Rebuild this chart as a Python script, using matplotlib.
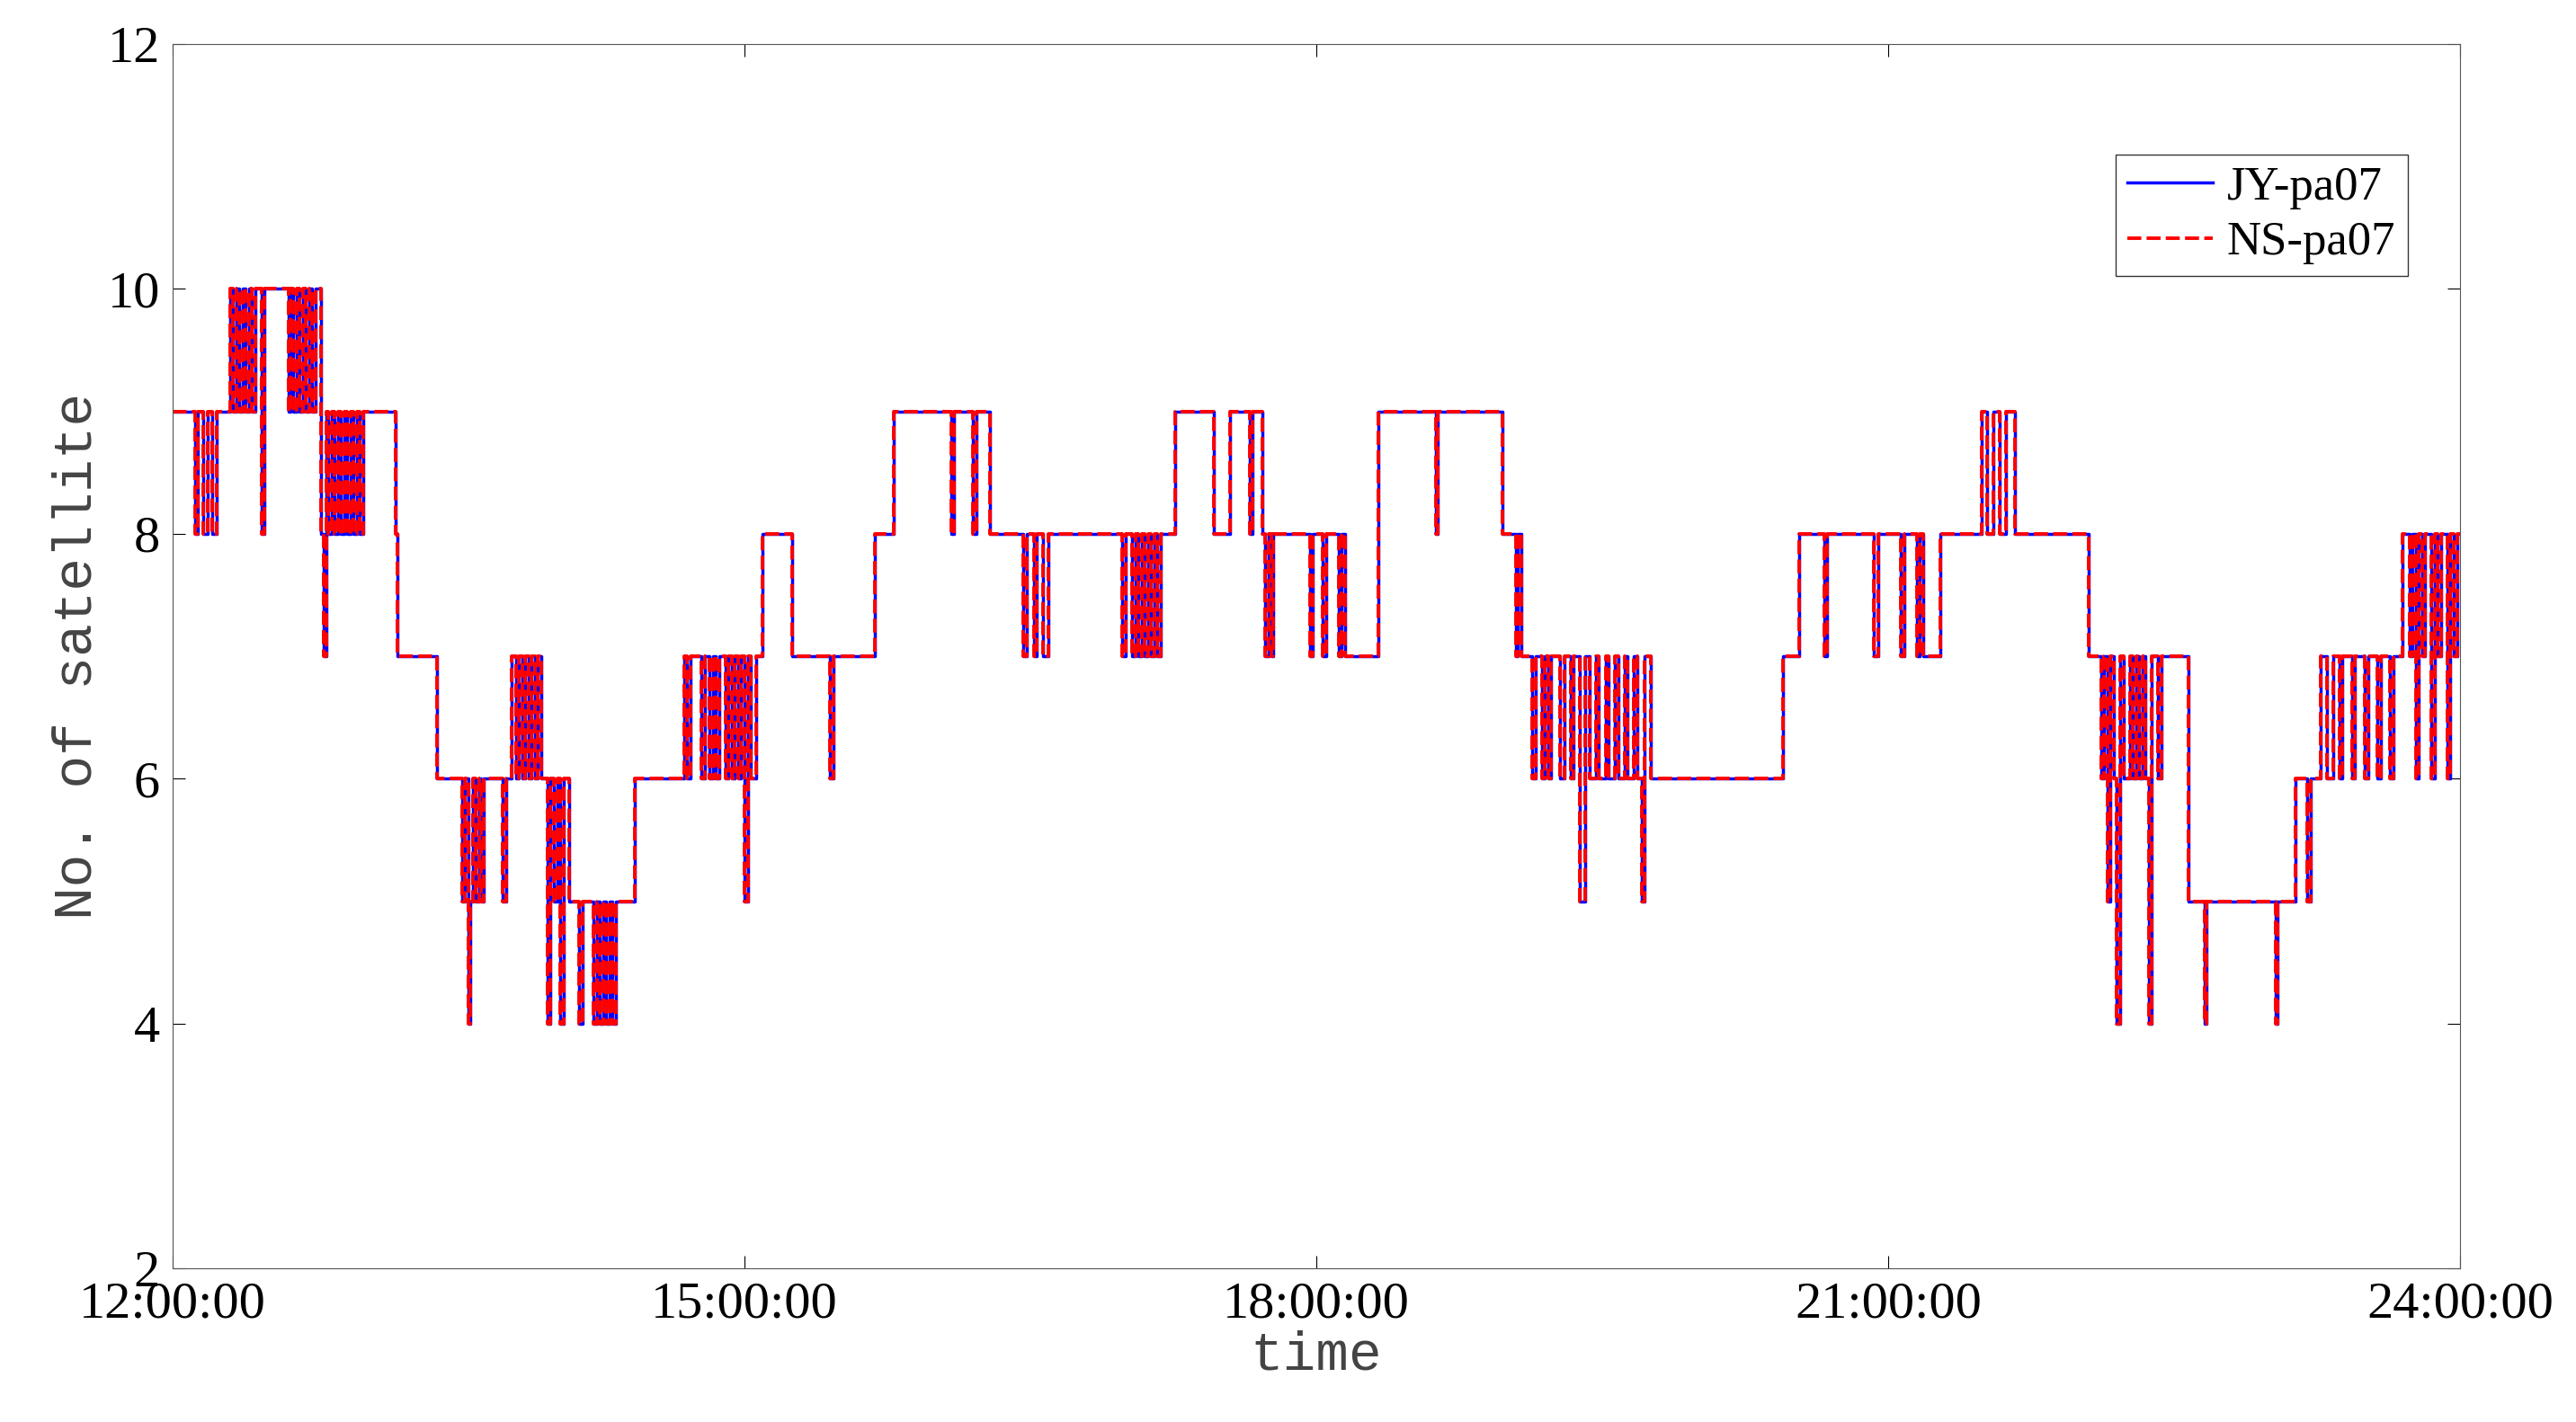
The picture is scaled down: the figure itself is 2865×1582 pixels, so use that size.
import matplotlib.pyplot as plt

# change points: (minutes after 12:00, number of satellites)
jy_steps = [
    (0, 9), (7, 8), (8, 9), (9.5, 8), (11, 9), (12.5, 8), (14, 9), (16, 9), (18, 10), (19, 9), (20, 10),
    (21, 9), (22, 10), (23, 9), (24, 10), (25, 9), (26, 10), (28, 8), (28.8, 10), (36.4, 9), (37, 10),
    (38, 9), (39, 10), (40, 9), (41, 10), (42, 9), (43, 10), (44, 9), (45, 10), (46.8, 8), (47.5, 7),
    (48.3, 9), (49, 8), (50, 9), (51, 8), (52, 9), (53, 8), (54, 9), (55, 8), (56, 9), (57, 8), (58, 9),
    (59, 8), (60, 9), (70.2, 8), (70.8, 7), (83.2, 6), (91, 5), (92, 6), (93, 4), (93.6, 5), (94.5, 6),
    (95.5, 5), (96.5, 6), (97.2, 5), (97.8, 6), (104, 5), (105, 6), (106.6, 7), (108, 6), (109, 7),
    (110, 6), (111, 7), (112, 6), (113, 7), (114, 6), (115, 7), (116, 6), (117, 6), (118, 4), (119, 6),
    (120, 5), (121, 6), (122, 4), (123, 6), (124.8, 5), (126, 5), (128, 4), (129, 5), (132.6, 4),
    (133.5, 5), (134.5, 4), (135.5, 5), (136.5, 4), (137.5, 5), (138.5, 4), (139.5, 5), (145.6, 6),
    (161, 7), (162, 6), (163, 7), (166.4, 6), (167.5, 7), (169, 6), (170, 7), (171, 6), (172, 7),
    (174, 6), (175, 7), (176, 6), (177, 7), (178, 6), (179, 7), (180, 5), (181, 7), (182, 6),
    (183.6, 7), (185.6, 8), (195, 7), (207, 6), (208, 7), (221, 8), (227, 9), (245, 8), (246, 9),
    (252, 8), (253, 9), (257.4, 8), (267.8, 7), (269, 8), (271, 7), (272, 8), (274, 7), (275.6, 8),
    (299, 7), (300, 8), (302, 7), (303, 8), (304, 7), (305, 8), (306, 7), (307, 8), (308, 7), (309, 8),
    (310, 7), (311, 8), (315.6, 9), (327.6, 8), (332.8, 9), (339, 8), (340, 9), (343, 8), (344, 7),
    (345, 8), (345.8, 7), (346.5, 8), (358, 7), (359, 8), (362, 7), (363, 8), (364, 8), (367, 7),
    (368, 8), (369, 7), (379.6, 9), (397.5, 8), (398.3, 9), (418.6, 8), (422.8, 7), (423.5, 8),
    (424.5, 7), (426.4, 7), (428, 6), (429, 7), (431, 6), (432, 7), (433, 6), (434, 7), (436.8, 6),
    (438, 7), (440, 6), (441, 7), (443, 5), (444.5, 7), (446, 6), (448, 7), (449, 6), (451, 7),
    (452, 6), (454, 7), (455, 6), (457, 7), (458, 6), (460, 7), (461, 6), (462.5, 5), (463.2, 7),
    (465.4, 6), (507, 7), (512, 8), (520, 7), (520.8, 8), (535.6, 7), (537, 8), (544, 7), (545, 8),
    (549, 7), (550, 8), (551, 7), (556.4, 8), (569.4, 9), (571, 8), (573, 9), (575, 8), (577, 9),
    (580, 8), (603.2, 7), (605.8, 7), (607, 6), (608, 7), (609, 5), (610, 7), (611, 6), (612, 4),
    (613, 7), (614, 6), (616, 7), (617, 6), (618, 7), (619, 6), (620, 7), (621, 6), (622, 4), (623, 7),
    (625, 6), (626, 7), (634.4, 5), (639.6, 4), (640.2, 5), (662, 4), (662.6, 5), (668.2, 6), (672, 5),
    (673, 6), (676, 7), (678, 6), (680, 7), (682, 6), (683, 7), (686, 6), (687, 7), (690, 6), (691, 7),
    (694, 6), (695, 7), (698, 6), (699, 7), (702, 8), (704, 7), (705, 8), (706, 6), (707, 8), (708, 7),
    (709, 8), (711, 6), (712, 8), (713, 7), (714, 8), (716, 6), (717, 8), (718, 7), (719, 8), (720, 8),
]
ns_steps = list(jy_steps)

jy_t = [p[0] for p in jy_steps]
jy_v = [p[1] for p in jy_steps]
ns_t = [p[0] for p in ns_steps]
ns_v = [p[1] for p in ns_steps]

tick_min = [0, 180, 360, 540, 720]
tick_lab = ['12:00:00', '15:00:00', '18:00:00', '21:00:00', '24:00:00']

fig = plt.figure(figsize=(28.65, 15.82), dpi=100)
ax = fig.add_axes([0.067, 0.108, 0.888, 0.861])
ax.step(jy_t, jy_v, where='post', color='blue', lw=2.5, label='JY-pa07')
ax.step(ns_t, ns_v, where='post', color='red', lw=2.8, ls=(0, (4, 1.5)), label='NS-pa07')

ax.set_xlim(0, 720)
ax.set_ylim(2, 12)
ax.set_xticks(tick_min)
ax.set_xticklabels(tick_lab)
ax.set_yticks(range(2, 13, 2))
ax.tick_params(labelsize=42, direction='in', length=10, top=True, right=True, pad=10)
for lab in ax.get_xticklabels() + ax.get_yticklabels():
    lab.set_family('Liberation Serif')
for s in ax.spines.values():
    s.set_color('#555555')
ax.set_xlabel('time', family='Liberation Mono', fontsize=44, labelpad=2, color='#444444')
ax.set_ylabel('No. of satellite', family='Liberation Mono', fontsize=44, color='#444444')

leg = ax.legend(loc='upper right', bbox_to_anchor=(0.977, 0.91), prop={'family': 'Liberation Serif', 'size': 38},
                fancybox=False, edgecolor='black', handlelength=1.8, handletextpad=0.3,
                borderpad=0.25, labelspacing=0.25, borderaxespad=0)

fig.savefig('out.png', dpi=100)
